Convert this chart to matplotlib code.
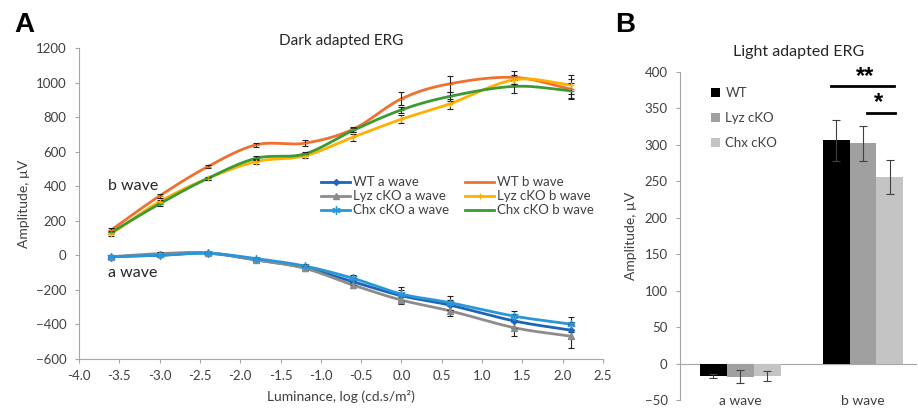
import numpy as np
import matplotlib
matplotlib.use('Agg')
import matplotlib.pyplot as plt

plt.rcParams['font.family'] = ['Lato', 'DejaVu Sans']

# dark adapted ERG, luminance steps (log cd.s/m2)
lum = [-3.6, -3.0, -2.4, -1.8, -1.2, -0.6, 0.0, 0.6, 1.4, 2.1]

wt_a = [-8, 0, 12, -27, -71, -153, -234, -288, -380, -433]
lyz_a = [-8, 10, 15, -27, -75, -172, -259, -321, -419, -468]
chx_a = [-8, 0, 12, -19, -62, -133, -224, -274, -352, -398]
wt_a_err = [10, 10, 10, 12, 15, 18, 35, 30, 40, 45]
lyz_a_err = [10, 10, 10, 12, 15, 15, 24, 30, 47, 70]
chx_a_err = [8, 8, 8, 10, 12, 18, 43, 40, 32, 43]

wt_b = [147, 344, 514, 640, 649, 730, 906, 993, 1030, 962]
lyz_b = [124, 311, 446, 543, 576, 684, 788, 877, 1016, 987]
chx_b = [133, 298, 446, 562, 587, 723, 842, 920, 978, 953]
wt_b_err = [10, 10, 10, 12, 18, 15, 38, 47, 37, 60]
lyz_b_err = [10, 12, 8, 12, 12, 20, 24, 30, 25, 55]
chx_b_err = [8, 12, 8, 12, 12, 12, 18, 25, 36, 44]

# light adapted ERG
groups = ['a wave', 'b wave']
genotypes = ['WT', 'Lyz cKO', 'Chx cKO']
light_vals = {'WT': [-17, 306], 'Lyz cKO': [-18, 302], 'Chx cKO': [-17, 256]}
light_errs = {'WT': [3, 28], 'Lyz cKO': [9, 24], 'Chx cKO': [7, 23]}
bar_colors = ['#000000', '#a0a0a0', '#c4c4c4']


def smooth(x, y, n=30):
    # catmull-rom style smoothing like excel's smoothed lines
    x = np.asarray(x, float)
    y = np.asarray(y, float)
    px = np.concatenate(([2 * x[0] - x[1]], x, [2 * x[-1] - x[-2]]))
    py = np.concatenate(([2 * y[0] - y[1]], y, [2 * y[-1] - y[-2]]))
    xs, ys = [], []
    t = np.linspace(0, 1, n)
    for i in range(1, len(px) - 2):
        for p, out in ((px, xs), (py, ys)):
            p0, p1, p2, p3 = p[i - 1], p[i], p[i + 1], p[i + 2]
            out.extend(0.5 * ((2 * p1) + (-p0 + p2) * t
                              + (2 * p0 - 5 * p1 + 4 * p2 - p3) * t ** 2
                              + (-p0 + 3 * p1 - 3 * p2 + p3) * t ** 3))
    return np.array(xs), np.array(ys)


fig = plt.figure(figsize=(9.18, 4.12), dpi=100)
W, H = 918, 412
axA = fig.add_axes([79 / W, 1 - 359 / H, (603 - 79) / W, (359 - 48) / H])
axB = fig.add_axes([680 / W, 1 - 400 / H, (917 - 680) / W, (400 - 71.7) / H])

# legend is filled column-wise: a waves left, b waves right
series = [
    (wt_a, wt_a_err, '#1f64b8', 'D', 3, 'WT a wave'),
    (lyz_a, lyz_a_err, '#8c8c8c', '^', 5, 'Lyz cKO a wave'),
    (chx_a, chx_a_err, '#2a96d8', (6, 2, 0), 6, 'Chx cKO a wave'),
    (wt_b, wt_b_err, '#f07030', '_', 5, 'WT b wave'),
    (lyz_b, lyz_b_err, '#ffb000', '+', 5, 'Lyz cKO b wave'),
    (chx_b, chx_b_err, '#3c9a32', '_', 5, 'Chx cKO b wave'),
]
for vals, errs, col, mk, ms, lab in series:
    sx, sy = smooth(lum, vals)
    axA.errorbar(lum, vals, yerr=errs, fmt='none', ecolor='#222222',
                 elinewidth=0.8, capsize=2.5, capthick=0.8, zorder=3)
    axA.plot(sx, sy, color=col, lw=2, zorder=2)
    axA.plot(lum, vals, linestyle='none', marker=mk, ms=ms, color=col,
             mec=col, mew=1, zorder=4)
    axA.plot([], [], color=col, lw=2, marker=mk, ms=ms, mew=1, label=lab)

axA.set_xlim(-4.0, 2.5)
axA.set_ylim(-600, 1200)
axA.set_xticks(np.arange(-4.0, 2.51, 0.5))
axA.set_xticklabels(['%.1f' % v for v in np.arange(-4.0, 2.51, 0.5)])
axA.set_yticks(np.arange(-600, 1201, 200))
for s in ['top', 'right']:
    axA.spines[s].set_visible(False)
for s in ['left', 'bottom']:
    axA.spines[s].set_color('#a6a6a6')
axA.tick_params(colors='#a6a6a6', labelcolor='#404040', labelsize=9.5,
                length=3, width=0.8)
axA.tick_params(axis='y', pad=6)
axA.tick_params(axis='x', pad=5)
axA.set_xlabel('Luminance, log (cd.s/m²)', fontsize=10, color='#404040',
               labelpad=6)
axA.set_ylabel('Amplitude, µV', fontsize=10, color='#404040', labelpad=4)
axA.set_title('Dark adapted ERG', fontsize=11, color='#262626', pad=-4)
axA.text(-3.64, 400, 'b wave', fontsize=11.5, color='#262626', va='center')
axA.text(-3.64, -100, 'a wave', fontsize=11.5, color='#262626', va='center')
axA.legend(ncol=2, loc='upper left', bbox_to_anchor=(0.44, 0.625),
           frameon=False, fontsize=9.5, handlelength=2.2, handletextpad=0.2,
           columnspacing=1.2, labelspacing=0.15, labelcolor='#404040')

# panel B bars
xg = np.arange(len(groups))
bw = 0.219
for i, g in enumerate(genotypes):
    axB.bar(xg + (i - 1) * bw, light_vals[g], bw, color=bar_colors[i],
            yerr=light_errs[g], ecolor='#404040',
            error_kw=dict(elinewidth=0.8, capsize=3, capthick=0.8),
            label=g, zorder=2)
axB.set_xlim(-0.49, 1.44)
axB.set_ylim(-50, 400)
axB.set_yticks(np.arange(-50, 401, 50))
axB.set_xticks([])
for x, g in zip(xg, groups):
    axB.text(x, -52, g, ha='center', va='center', fontsize=10,
             color='#404040')
axB.axhline(0, color='#a6a6a6', lw=0.8, zorder=1)
for s in ['top', 'right', 'bottom']:
    axB.spines[s].set_visible(False)
axB.spines['left'].set_color('#a6a6a6')
axB.tick_params(axis='y', colors='#a6a6a6', labelcolor='#404040',
                labelsize=9.5, length=3, width=0.8, pad=6)
axB.set_ylabel('Amplitude, µV', fontsize=10, color='#404040', labelpad=5)
axB.set_title('Light adapted ERG', fontsize=11.5, color='#262626', pad=11)
axB.legend(loc='upper left', bbox_to_anchor=(0.08, 0.99), frameon=False,
           fontsize=9.5, handlelength=0.7, handleheight=0.7,
           handletextpad=0.4, labelspacing=1.0, labelcolor='#404040')

# significance markers
axB.plot([0.74, 1.25], [380, 380], color='black', lw=2)
axB.text(1.02, 394, '**', ha='center', va='center', fontsize=17,
         fontweight='bold', family='Liberation Sans')
axB.plot([1.03, 1.26], [344, 344], color='black', lw=2)
axB.text(1.13, 358, '*', ha='center', va='center', fontsize=17,
         fontweight='bold', family='Liberation Sans')

fig.text(24 / W, 1 - 25 / H, 'A', fontsize=20, fontweight='bold',
         family='Liberation Sans', ha='center', va='center')
fig.text(625 / W, 1 - 25 / H, 'B', fontsize=20, fontweight='bold',
         family='Liberation Sans', ha='center', va='center')

fig.savefig('out.png', dpi=100)
